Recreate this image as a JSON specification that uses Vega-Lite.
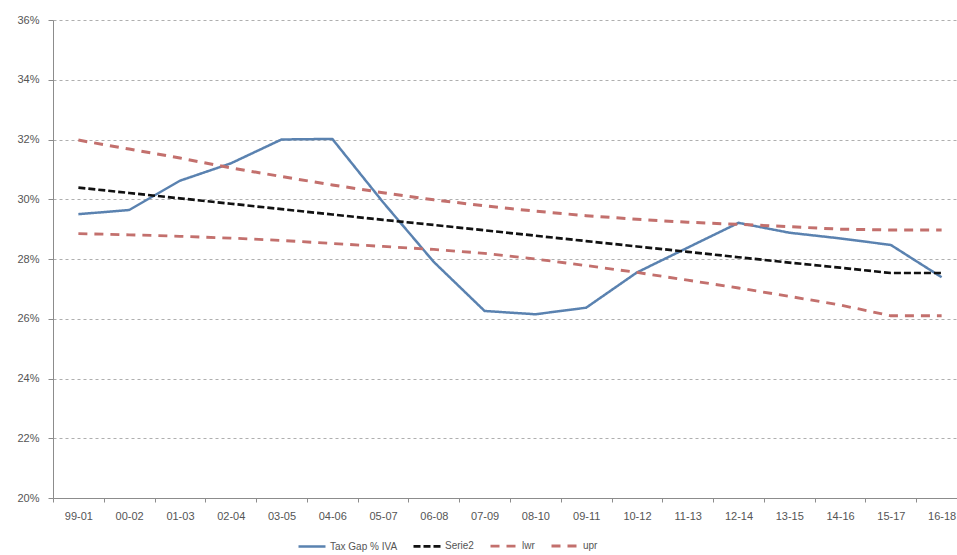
{
  "$schema": "https://vega.github.io/schema/vega-lite/v6.json",
  "autosize": "none",
  "width": 904,
  "height": 478,
  "padding": {"left": 53, "top": 20, "right": 0, "bottom": 57},
  "background": "white",
  "config": {
    "view": {"stroke": null},
    "axis": {
      "labelFont": "Liberation Sans",
      "labelFontSize": 11,
      "labelColor": "#555555",
      "domainColor": "#8c8c8c",
      "tickColor": "#8c8c8c",
      "titleFontSize": 0
    },
    "legend": {
      "labelFont": "Liberation Sans",
      "labelFontSize": 10,
      "labelColor": "#555555"
    }
  },
  "data": {
    "values": [
      {"period": "99-01", "Tax Gap % IVA": 29.5, "Serie2": 30.39, "lwr": 28.85, "upr": 31.98},
      {"period": "00-02", "Tax Gap % IVA": 29.64, "Serie2": 30.21, "lwr": 28.81, "upr": 31.68},
      {"period": "01-03", "Tax Gap % IVA": 30.62, "Serie2": 30.03, "lwr": 28.76, "upr": 31.38},
      {"period": "02-04", "Tax Gap % IVA": 31.2, "Serie2": 29.85, "lwr": 28.7, "upr": 31.05},
      {"period": "03-05", "Tax Gap % IVA": 32.0, "Serie2": 29.67, "lwr": 28.62, "upr": 30.76},
      {"period": "04-06", "Tax Gap % IVA": 32.02, "Serie2": 29.49, "lwr": 28.52, "upr": 30.48},
      {"period": "05-07", "Tax Gap % IVA": 29.9, "Serie2": 29.31, "lwr": 28.42, "upr": 30.22},
      {"period": "06-08", "Tax Gap % IVA": 27.9, "Serie2": 29.14, "lwr": 28.32, "upr": 29.98},
      {"period": "07-09", "Tax Gap % IVA": 26.26, "Serie2": 28.96, "lwr": 28.19, "upr": 29.78},
      {"period": "08-10", "Tax Gap % IVA": 26.15, "Serie2": 28.78, "lwr": 28.0, "upr": 29.6},
      {"period": "09-11", "Tax Gap % IVA": 26.37, "Serie2": 28.6, "lwr": 27.78, "upr": 29.45},
      {"period": "10-12", "Tax Gap % IVA": 27.55, "Serie2": 28.42, "lwr": 27.55, "upr": 29.33},
      {"period": "11-13", "Tax Gap % IVA": 28.38, "Serie2": 28.24, "lwr": 27.29, "upr": 29.23},
      {"period": "12-14", "Tax Gap % IVA": 29.21, "Serie2": 28.06, "lwr": 27.03, "upr": 29.16},
      {"period": "13-15", "Tax Gap % IVA": 28.88, "Serie2": 27.88, "lwr": 26.75, "upr": 29.08},
      {"period": "14-16", "Tax Gap % IVA": 28.69, "Serie2": 27.71, "lwr": 26.46, "upr": 29.0},
      {"period": "15-17", "Tax Gap % IVA": 28.47, "Serie2": 27.53, "lwr": 26.1, "upr": 28.97},
      {"period": "16-18", "Tax Gap % IVA": 27.39, "Serie2": 27.53, "lwr": 26.1, "upr": 28.97}
    ]
  },
  "transform": [
    {"fold": ["Tax Gap % IVA", "Serie2", "lwr", "upr"], "as": ["series", "value"]}
  ],
  "mark": {"type": "line", "strokeCap": "butt", "strokeJoin": "round"},
  "encoding": {
    "x": {
      "field": "period",
      "type": "nominal",
      "sort": null,
      "title": null,
      "scale": {"type": "band", "range": [0, 914], "paddingInner": 0, "paddingOuter": 0},
      "axis": {
        "labelAngle": 0,
        "tickBand": "extent",
        "tickSize": 4,
        "labelPadding": 8,
        "grid": false
      }
    },
    "y": {
      "field": "value",
      "type": "quantitative",
      "title": null,
      "scale": {"domain": [20, 36], "nice": false, "zero": false},
      "axis": {
        "values": [20, 22, 24, 26, 28, 30, 32, 34, 36],
        "labelExpr": "datum.value + '%'",
        "tickSize": 5,
        "labelPadding": 9,
        "grid": true,
        "gridColor": "#9a9a9a",
        "gridDash": [3, 3],
        "gridWidth": 0.8
      }
    },
    "color": {
      "field": "series",
      "type": "nominal",
      "scale": {
        "domain": ["Tax Gap % IVA", "Serie2", "lwr", "upr"],
        "range": ["#5A82B0", "#111111", "#C3706D", "#C3706D"]
      },
      "legend": {
        "title": null,
        "orient": "none",
        "direction": "horizontal",
        "legendX": 244,
        "legendY": 511,
        "symbolType": "stroke",
        "symbolSize": 729,
        "symbolStrokeWidth": 2.5,
        "columnPadding": 10,
        "labelOffset": 3
      }
    },
    "strokeDash": {
      "field": "series",
      "type": "nominal",
      "scale": {
        "domain": ["Tax Gap % IVA", "Serie2", "lwr", "upr"],
        "range": [[1, 0], [7, 3], [9, 7], [9, 7]]
      },
      "legend": {
        "title": null,
        "orient": "none",
        "direction": "horizontal",
        "legendX": 244,
        "legendY": 511,
        "symbolType": "stroke",
        "symbolSize": 729,
        "symbolStrokeWidth": 2.5,
        "columnPadding": 10,
        "labelOffset": 3
      }
    },
    "strokeWidth": {
      "field": "series",
      "type": "nominal",
      "scale": {
        "domain": ["Tax Gap % IVA", "Serie2", "lwr", "upr"],
        "range": [2.5, 3, 3, 3]
      },
      "legend": null
    }
  }
}
